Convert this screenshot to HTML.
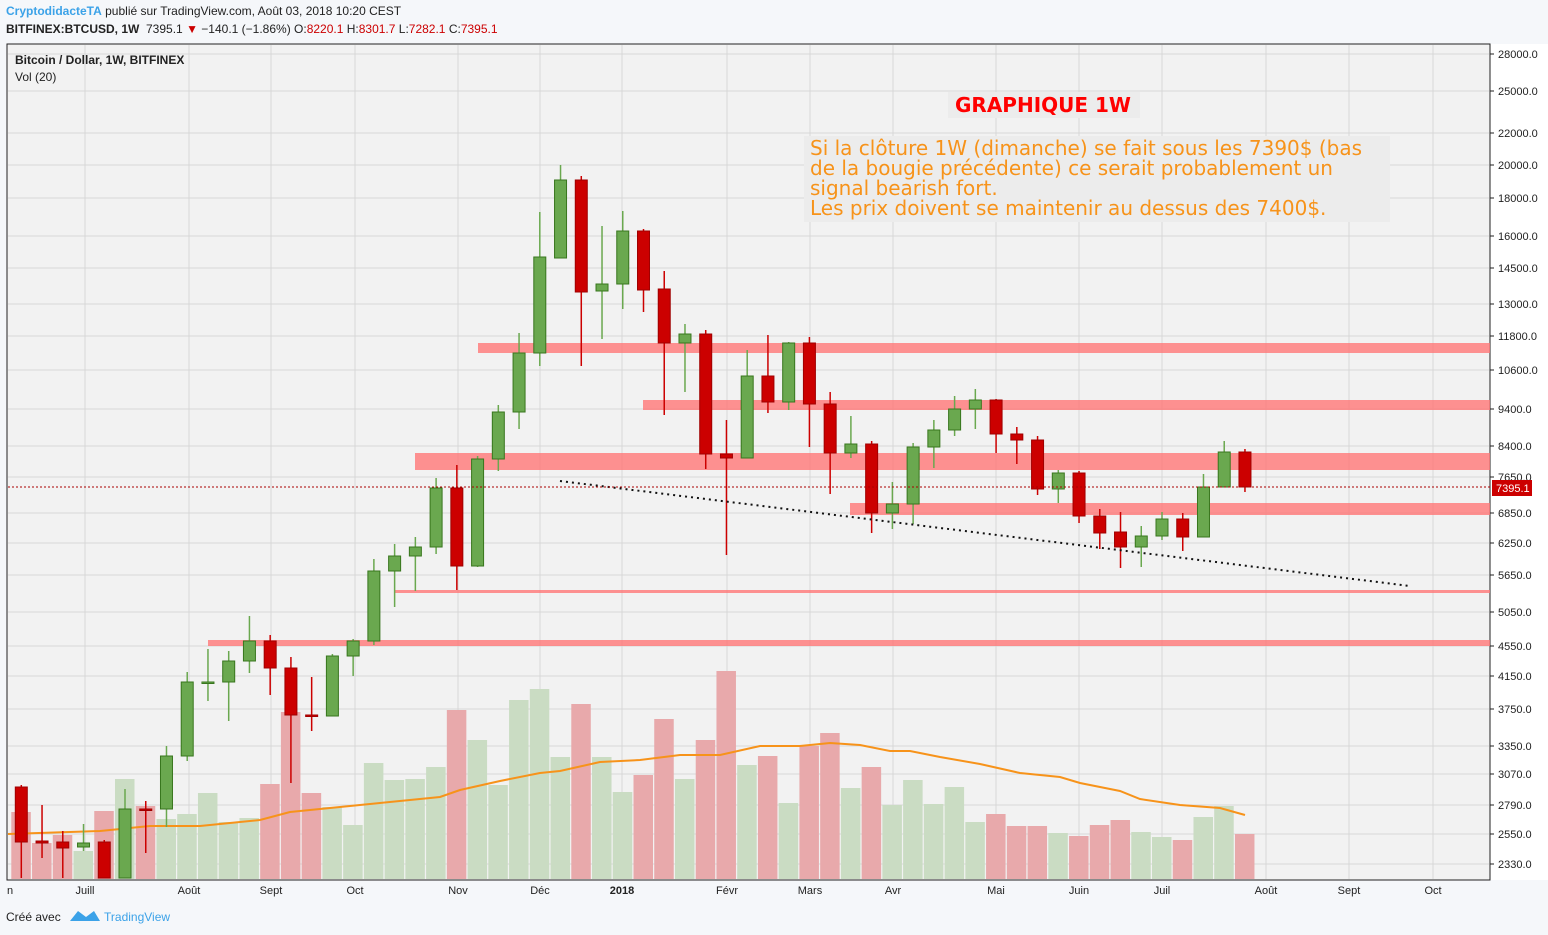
<!DOCTYPE html>
<html><head><meta charset="utf-8">
<style>
body{margin:0;width:1548px;height:935px;background:#f5f7fa;font-family:"Liberation Sans",sans-serif;overflow:hidden;position:relative}
.t{position:absolute;white-space:nowrap}
</style></head><body>
<div class="t" style="left:6px;top:4px;font-size:12px;color:#222"><span style="color:#3ba2e8;font-weight:bold">CryptodidacteTA</span> publié sur TradingView.com, Août 03, 2018 10:20 CEST</div>
<div class="t" style="left:6px;top:22px;font-size:12px;color:#222"><b>BITFINEX:BTCUSD, 1W</b> &nbsp;7395.1 <span style="color:#c00">▼</span> −140.1 (−1.86%) O:<span style="color:#c00">8220.1</span> H:<span style="color:#c00">8301.7</span> L:<span style="color:#c00">7282.1</span> C:<span style="color:#c00">7395.1</span></div>
<svg id="s" width="1548" height="935" style="position:absolute;left:0;top:0"></svg>
<div class="t" style="left:15px;top:53px;font-size:12px;color:#222;font-weight:bold">Bitcoin / Dollar, 1W, BITFINEX</div>
<div class="t" style="left:15px;top:70px;font-size:12px;color:#222">Vol (20)</div>
<div class="t" style="left:948px;top:92px;width:192px;height:26px;background:#ececec"></div>
<div class="t" style="left:955px;top:93px;font-size:20px;color:#f00;font-weight:bold;font-family:'DejaVu Sans',sans-serif">GRAPHIQUE 1W</div>
<div class="t" style="left:804px;top:136px;width:586px;height:86px;background:#ececec"></div>
<div class="t" style="left:810px;top:138px;font-size:20px;line-height:20px;color:#f7931a;font-family:'DejaVu Sans',sans-serif">Si la clôture 1W (dimanche) se fait sous les 7390$ (bas<br>de la bougie précédente) ce serait probablement un<br>signal bearish fort.<br>Les prix doivent se maintenir au dessus des 7400$.</div>
<div class="t" style="left:6px;top:910px;font-size:12px;color:#222">Créé avec <span style="color:#3ba2e8;margin-left:40px">TradingView</span></div>
<script>
const s=document.getElementById('s');let h='';
h+='<rect x="7" y="44" width="1483" height="836" fill="#f2f2f2" stroke="#222" stroke-width="1"/>';
h+='<rect x="1490" y="44" width="58" height="836" fill="#fff"/>';
h+='<line x1="1490" y1="44" x2="1490" y2="880" stroke="#222"/>';
const ticks=[[28000,54],[25000,91],[22000,133],[20000,165],[18000,198],[16000,236],[14500,268],[13000,304],[11800,336],[10600,370],[9400,409],[8400,446],[7650,477],[6850,513],[6250,543],[5650,575],[5050,612],[4550,646],[4150,676],[3750,709],[3350,746],[3070,774],[2790,805],[2550,834],[2330,864]];
for(const [v,y] of ticks){h+=`<line x1="8" x2="1489" y1="${y}" y2="${y}" stroke="#d8d8d8"/><line x1="1490" x2="1494" y1="${y}" y2="${y}" stroke="#222"/><text x="1498" y="${y+4}" font-size="11" fill="#222">${v.toFixed(1)}</text>`;}
const mo=[[85,'Juill'],[189,'Août'],[271,'Sept'],[355,'Oct'],[458,'Nov'],[540,'Déc'],[622,'2018'],[727,'Févr'],[810,'Mars'],[893,'Avr'],[996,'Mai'],[1079,'Juin'],[1162,'Juil'],[1266,'Août'],[1349,'Sept'],[1433,'Oct']];
for(const [x,t] of mo){h+=`<line x1="${x}" x2="${x}" y1="45" y2="879" stroke="#d8d8d8"/><text x="${x}" y="894" font-size="11" text-anchor="middle" fill="#222" ${t=='2018'?'font-weight="bold"':''}>${t}</text>`;}
h+='<text x="7" y="894" font-size="11" fill="#222">n</text>';
const vol=[[812,0],[843,0],[835,0],[851,1],[811,0],[779,1],[806,0],[819,1],[814,1],[793,1],[822,1],[818,1],[784,0],[712,0],[793,0],[807,1],[825,1],[763,1],[780,1],[779,1],[767,1],[710,0],[740,1],[785,1],[700,1],[689,1],[757,1],[704,0],[757,1],[792,1],[775,0],[719,0],[779,1],[740,0],[671,0],[765,1],[756,0],[803,1],[746,0],[733,0],[788,1],[767,0],[805,1],[780,1],[804,1],[787,1],[822,1],[814,0],[826,0],[826,0],[833,1],[836,0],[825,0],[820,0],[832,1],[837,1],[840,0],[817,1],[806,1],[834,0]];
const X=i=>21.3+20.74*i;
vol.forEach(([t,g],i)=>{h+=`<rect x="${X(i)-10}" y="${t}" width="19.5" height="${879-t}" fill="${g?'#cadcc3':'#e8a9ab'}"/>`;});
const ma=[[8,834],[100,831],[150,826],[200,826],[260,820],[290,812],[330,808],[380,803],[440,797],[460,790],[500,781],[540,773],[560,771],[600,762],[640,760],[680,755],[720,755],[760,746],[800,746],[830,743],[860,745],[890,751],[910,751],[940,757],[980,764],[1020,773],[1060,777],[1080,783],[1120,791],[1140,799],[1180,805],[1220,808],[1245,815]];
h+=`<polyline points="${ma.map(p=>p.join(',')).join(' ')}" fill="none" stroke="#f7931a" stroke-width="2"/>`;
const zones=[[478,343,353],[643,400,410],[415,453,470],[850,503,515],[395,590,593],[208,640,646]];
for(const [x,a,b] of zones)h+=`<rect x="${x}" y="${a}" width="${1490-x}" height="${b-a}" fill="#f77" opacity="0.8"/>`;
const c=[[787,842,785,878,0],[841,843,805,858,0],[842,848,831,878,0],[847,843,824,851,1],[842,878,840,878,0],[878,809,789,878,1],[809,810,801,853,0],[809,756,746,827,1],[756,682,672,761,1],[682,682,649,701,1],[682,661,651,721,1],[661,641,616,673,1],[641,668,635,695,0],[668,715,657,783,0],[715,716,677,731,0],[716,656,654,716,1],[656,641,639,676,1],[641,571,559,645,1],[571,556,544,607,1],[556,547,537,591,1],[547,488,478,554,1],[488,566,465,590,0],[566,459,456,567,1],[459,412,405,471,1],[412,353,333,429,1],[353,257,212,366,1],[258,180,165,258,1],[180,292,176,366,0],[291,284,226,339,1],[284,231,211,309,1],[231,290,229,312,0],[289,343,271,415,0],[343,334,324,392,1],[334,454,330,469,0],[454,458,420,555,0],[458,376,350,458,1],[376,402,335,413,0],[402,343,342,410,1],[343,404,337,447,0],[404,453,392,494,0],[453,444,416,458,1],[444,513,441,533,0],[513,504,482,529,1],[504,447,443,524,1],[447,430,420,468,1],[430,409,396,436,1],[409,400,389,429,1],[400,434,399,453,0],[434,440,427,464,0],[440,489,436,495,0],[489,473,470,503,1],[473,516,471,523,0],[516,533,509,549,0],[532,547,512,568,0],[547,536,526,567,1],[536,519,512,540,1],[519,537,513,551,0],[537,487,474,537,1],[487,452,441,487,1],[452,487,449,492,0]];
c.forEach(([o,cl,hi,lo,g],i)=>{const x=X(i),col=g?'#6aa84f':'#cc0000',st=g?'#38761d':'#a00000';const t=Math.min(o,cl),b=Math.max(o,cl);
h+=`<line x1="${x}" x2="${x}" y1="${hi}" y2="${lo}" stroke="${g?'#6aa84f':'#cc0000'}" stroke-width="1.5"/>`;
h+=`<rect x="${x-6}" y="${t}" width="12" height="${Math.max(b-t,1.5)}" fill="${col}" stroke="${st}" stroke-width="1"/>`;});
h+='<line x1="560" y1="481" x2="1410" y2="586" stroke="#111" stroke-width="2" stroke-dasharray="2,4"/>';
h+='<line x1="8" x2="1490" y1="487" y2="487" stroke="#a00" stroke-width="1" stroke-dasharray="2,2"/>';
h+='<rect x="1492" y="480" width="40" height="16" fill="#cc0000"/><text x="1496" y="492" font-size="11" fill="#fff">7395.1</text>';
h+='<path d="M70 921 l8 -10 l8 6 l8 -6 l6 10 z" fill="#3ba2e8"/>';
s.innerHTML=h;
</script>
</body></html>
